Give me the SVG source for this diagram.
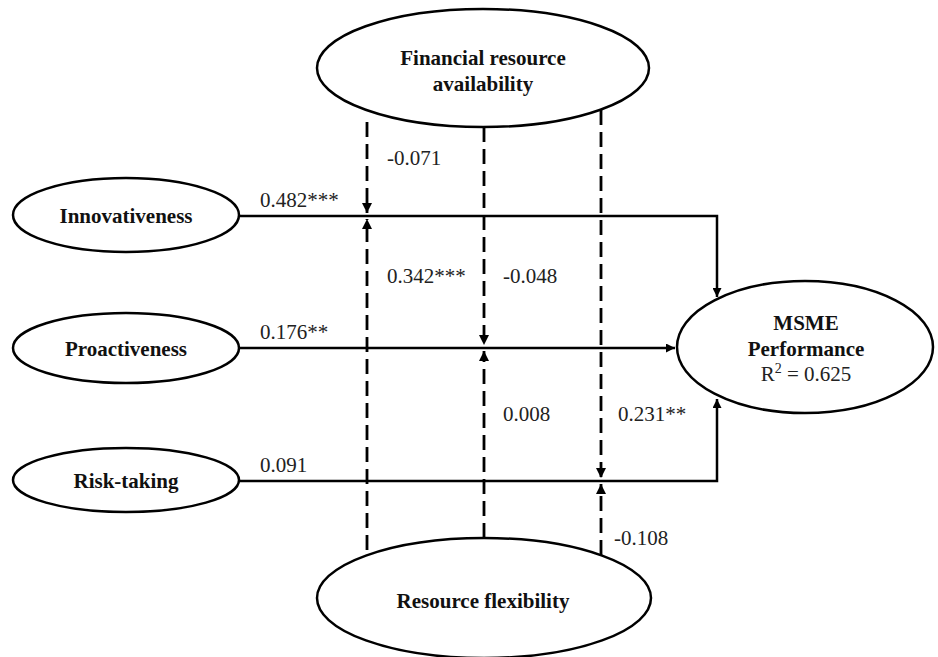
<svg xmlns="http://www.w3.org/2000/svg" width="938" height="657" viewBox="0 0 938 657">
<defs>
<marker id="ah" viewBox="0 0 10 10" refX="10" refY="5" markerWidth="3.6" markerHeight="3.6" orient="auto" markerUnits="strokeWidth">
<path d="M0,0 L10,5 L0,10 Z" fill="#000"/>
</marker>
<style>
.node{fill:#fff;stroke:#000;stroke-width:2.5}
.lbl{font-family:'Liberation Serif','Times New Roman','DejaVu Serif',serif;font-size:21px;font-weight:bold;text-anchor:middle;fill:#111}
.num{font-family:'Liberation Serif','Times New Roman','DejaVu Serif',serif;font-size:21px;fill:#222}
.path{fill:none;stroke:#000;stroke-width:2.5}
.dash{fill:none;stroke:#000;stroke-width:2.8;stroke-dasharray:15 7}
</style>
</defs>
<rect width="938" height="657" fill="#fff"/>
<g id="connectors">
<polyline class="path" points="240,216 717,216 717,297" marker-end="url(#ah)"/>
<line class="path" x1="240" y1="348" x2="675" y2="348" marker-end="url(#ah)"/>
<polyline class="path" points="240,481 717,481 717,399" marker-end="url(#ah)"/>
<line class="dash" x1="367" y1="122" x2="367" y2="213" marker-end="url(#ah)"/>
<line class="dash" x1="367" y1="550" x2="367" y2="219" marker-end="url(#ah)"/>
<line class="dash" x1="484" y1="127" x2="484" y2="345" marker-end="url(#ah)"/>
<line class="dash" x1="484" y1="538" x2="484" y2="351" marker-end="url(#ah)"/>
<line class="dash" x1="601" y1="110" x2="601" y2="478" marker-end="url(#ah)"/>
<line class="dash" x1="601" y1="555" x2="601" y2="484" marker-end="url(#ah)"/>
</g>
<g id="coefficients">
<text class="num" x="260" y="207" font-family="Liberation Serif, serif">0.482***</text>
<text class="num" x="260" y="339" font-family="Liberation Serif, serif">0.176**</text>
<text class="num" x="260" y="472" font-family="Liberation Serif, serif">0.091</text>
<text class="num" x="387" y="165" font-family="Liberation Serif, serif">-0.071</text>
<text class="num" x="387" y="283" font-family="Liberation Serif, serif">0.342***</text>
<text class="num" x="503" y="283" font-family="Liberation Serif, serif">-0.048</text>
<text class="num" x="503" y="421" font-family="Liberation Serif, serif">0.008</text>
<text class="num" x="618" y="421" font-family="Liberation Serif, serif">0.231**</text>
<text class="num" x="614" y="545" font-family="Liberation Serif, serif">-0.108</text>
</g>
<g id="financial">
<ellipse class="node" cx="483" cy="68" rx="166" ry="59"/>
<text class="lbl" x="483" y="65" font-family="Liberation Serif, serif">Financial resource</text>
<text class="lbl" x="483" y="91" font-family="Liberation Serif, serif">availability</text>
</g>
<g id="flexibility">
<ellipse class="node" cx="484" cy="598" rx="167" ry="60"/>
<text class="lbl" x="483" y="608" font-family="Liberation Serif, serif">Resource flexibility</text>
</g>
<g id="innovativeness">
<ellipse class="node" cx="126" cy="215" rx="113" ry="37"/>
<text class="lbl" x="126" y="223" font-family="Liberation Serif, serif">Innovativeness</text>
</g>
<g id="proactiveness">
<ellipse class="node" cx="126" cy="348" rx="113" ry="35"/>
<text class="lbl" x="126" y="356" font-family="Liberation Serif, serif">Proactiveness</text>
</g>
<g id="risktaking">
<ellipse class="node" cx="126" cy="480" rx="113" ry="32"/>
<text class="lbl" x="126" y="488" font-family="Liberation Serif, serif">Risk-taking</text>
</g>
<g id="msme">
<ellipse class="node" cx="805" cy="347" rx="128" ry="66"/>
<text class="lbl" x="806" y="330" font-family="Liberation Serif, serif">MSME</text>
<text class="lbl" x="806" y="356" font-family="Liberation Serif, serif">Performance</text>
<text class="num" x="806" y="381" text-anchor="middle" font-family="Liberation Serif, serif">R<tspan font-size="14" dy="-8">2</tspan><tspan dy="8"> = 0.625</tspan></text>
</g>
</svg>
